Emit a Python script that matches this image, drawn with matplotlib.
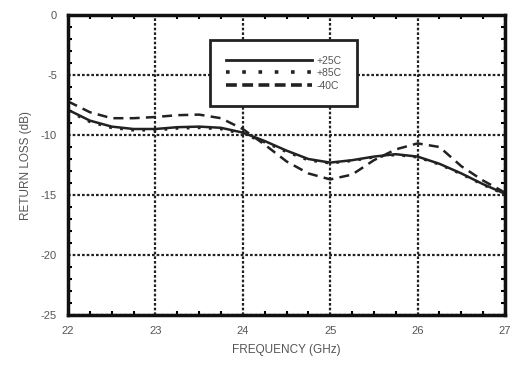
import matplotlib.pyplot as plt
import numpy as np
from matplotlib.ticker import MultipleLocator

# values (frequency in GHz, return loss in dB)
freq = [22.0, 22.25, 22.5, 22.75, 23.0, 23.25, 23.5, 23.75, 24.0, 24.25, 24.5, 24.75,
        25.0, 25.25, 25.5, 25.75, 26.0, 26.25, 26.5, 26.75, 27.0]
rl_25 = [-7.9, -8.8, -9.3, -9.5, -9.5, -9.35, -9.3, -9.4, -9.8, -10.5, -11.3, -12.0,
         -12.3, -12.1, -11.8, -11.6, -11.8, -12.4, -13.2, -14.1, -14.9]
rl_85 = [-8.0, -8.9, -9.4, -9.6, -9.6, -9.45, -9.4, -9.5, -9.9, -10.6, -11.4, -12.1,
         -12.35, -12.15, -11.85, -11.65, -11.85, -12.45, -13.25, -14.15, -14.95]
rl_m40 = [-7.2, -8.1, -8.6, -8.6, -8.5, -8.35, -8.3, -8.6, -9.5, -10.8, -12.2, -13.2,
          -13.7, -13.3, -12.1, -11.2, -10.7, -11.0, -12.6, -13.8, -14.8]
xticks = [22, 23, 24, 25, 26, 27]
yticks = [0, -5, -10, -15, -20, -25]

plt.rcParams['font.family'] = ['Liberation Sans', 'DejaVu Sans']
plt.rcParams['axes.unicode_minus'] = False

fig = plt.figure(figsize=(5.14, 3.73), dpi=100)
ax = fig.add_axes([68 / 514, 1 - 315 / 373, (505 - 68) / 514, (315 - 15) / 373])

ax.plot(freq, rl_25, color='#222222', lw=1.8, label='+25C')
ax.plot(freq, rl_85, color='#222222', lw=2.0, ls=(0, (1, 3)), label='+85C')
ax.plot(freq, rl_m40, color='#222222', lw=1.8, ls=(0, (4, 2.5)), label='-40C')

ax.set_xlim(22, 27)
ax.set_ylim(-25, 0)
ax.set_xticks(xticks)
ax.set_yticks(yticks)
ax.xaxis.set_minor_locator(MultipleLocator(0.25))
ax.yaxis.set_minor_locator(MultipleLocator(1))
ax.tick_params(which='both', direction='in', top=True, right=True,
               labelsize=8, labelcolor='#555555', width=1.5)
ax.tick_params(which='major', length=0, pad=8)
ax.tick_params(which='minor', length=3)
ax.grid(True, color='#222222', ls=(0, (1.2, 0.9)), lw=1.6)
for s in ax.spines.values():
    s.set_linewidth(2.5)
    s.set_color('#111111')

ax.set_xlabel('FREQUENCY (GHz)', fontsize=8.5, color='#555555', labelpad=6)
ax.set_ylabel('RETURN LOSS (dB)', fontsize=8.5, color='#555555', labelpad=6)

leg = ax.legend(loc='upper left', bbox_to_anchor=(0.325, 0.917), fontsize=7.5,
                handlelength=8.3, frameon=True, fancybox=False, borderpad=1.5,
                labelspacing=0.25, handletextpad=0.4, borderaxespad=0)
leg.get_frame().set_edgecolor('#222222')
leg.get_frame().set_linewidth(2.0)
leg.get_frame().set_alpha(1)
for t in leg.get_texts():
    t.set_color('#555555')
# thicker samples in the key, as in the scanned original
hl = leg.get_lines()
hl[0].set_linewidth(2.0)
hl[1].set_linewidth(2.6)
hl[1].set_linestyle((0, (1, 3.5)))
hl[2].set_linewidth(2.6)
hl[2].set_linestyle((0, (3, 1.5)))

fig.savefig('out.png', dpi=100)
